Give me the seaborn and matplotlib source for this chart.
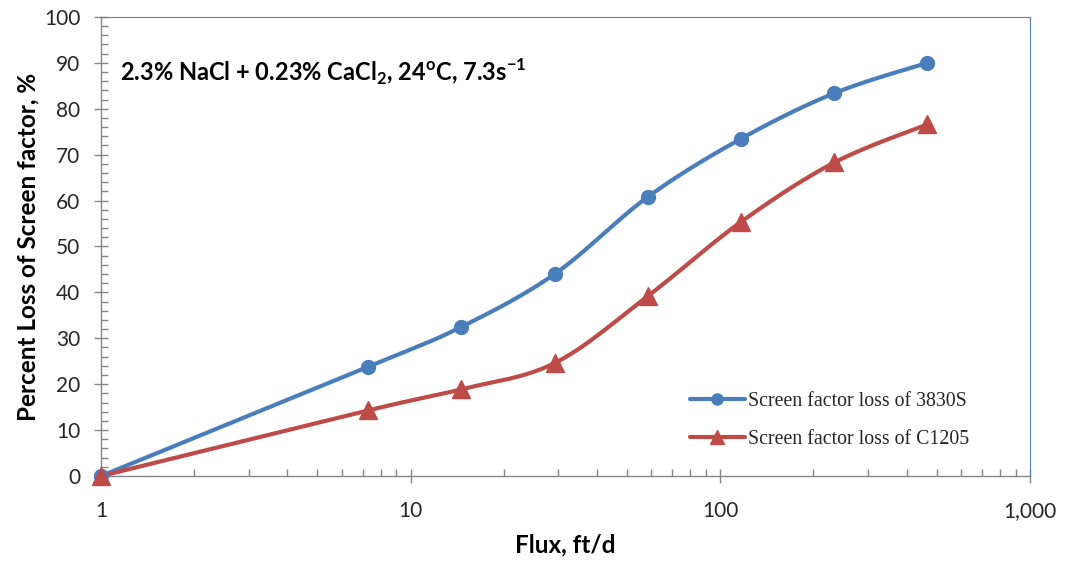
import numpy as np
import pandas as pd
import matplotlib
matplotlib.use("Agg")
import matplotlib.pyplot as plt
from matplotlib.ticker import FixedLocator, FuncFormatter, MultipleLocator, NullFormatter
import seaborn as sns

# Flux values (ft/d) and percent loss of screen factor
flux = [1, 7.3, 14.6, 29.2, 58.4, 117, 234, 467]
loss_3830s = [0, 23.8, 32.5, 44.0, 60.8, 73.5, 83.4, 90.0]
loss_c1205 = [0, 14.3, 18.9, 24.6, 39.2, 55.4, 68.3, 76.6]
series_names = ["Screen factor loss of 3830S", "Screen factor loss of C1205"]
x_ticks = [1, 10, 100, 1000]
x_tick_labels = ["1", "10", "100", "1,000"]

sns.set_theme(style="white")
plt.rcParams["font.family"] = ["Lato", "DejaVu Sans"]
plt.rcParams["mathtext.fontset"] = "custom"
plt.rcParams["mathtext.rm"] = "Lato"
plt.rcParams["mathtext.bf"] = "Lato:bold"

BLUE = "#4A7EBB"
RED = "#BE4B48"
GREY = "#868686"

fig = plt.figure(figsize=(10.7, 5.64), dpi=100)
ax = fig.add_axes([0.0944, 0.156, 0.868, 0.814])
ax.set_xscale("log")
ax.set_xlim(1, 1000)
ax.set_ylim(0, 100)


def smooth_curve(xs, ys, n=40):
    """Smoothed line: cubic Bezier segments with Catmull-Rom control points,
    built in screen-proportional space (log x)."""
    sx = 310.0
    sy = 4.59
    P = np.column_stack([np.log10(xs) * sx, np.asarray(ys) * sy])
    out = [P[0]]
    m = len(P)
    for i in range(m - 1):
        p0 = P[i - 1] if i > 0 else P[i]
        p1, p2 = P[i], P[i + 1]
        p3 = P[i + 2] if i + 2 < m else P[i + 1]
        c1 = p1 + (p2 - p0) / 6.0
        c2 = p2 - (p3 - p1) / 6.0
        t = np.linspace(0, 1, n)[1:, None]
        seg = ((1 - t) ** 3) * p1 + 3 * ((1 - t) ** 2) * t * c1 + 3 * (1 - t) * t ** 2 * c2 + t ** 3 * p2
        out.extend(seg)
    out = np.array(out)
    return 10 ** (out[:, 0] / sx), out[:, 1] / sy


for ys, color, marker, ms, name in [
    (loss_3830s, BLUE, "o", 10, series_names[0]),
    (loss_c1205, RED, "^", 13, series_names[1]),
]:
    cx, cy = smooth_curve(flux, ys)
    curve = pd.DataFrame({"flux": cx, "loss": cy})
    sns.lineplot(data=curve, x="flux", y="loss", sort=False, color=color, lw=3,
                 ax=ax, zorder=3, estimator=None)
    pts = pd.DataFrame({"flux": flux, "loss": ys})
    ax.plot(pts["flux"], pts["loss"], linestyle="none", marker=marker, ms=ms,
            color=color, zorder=4, clip_on=False)
    ax.plot([], [], color=color, lw=3, marker=marker, ms=ms * 0.8, label=name)

# axes styling
for side in ["left", "bottom"]:
    ax.spines[side].set_color(GREY)
    ax.spines[side].set_linewidth(1.0)
for side in ["top", "right"]:
    ax.spines[side].set_color("#4F81BD")
    ax.spines[side].set_linewidth(0.8)

ax.xaxis.set_major_locator(FixedLocator(x_ticks))
ax.xaxis.set_major_formatter(FuncFormatter(lambda v, p: x_tick_labels[x_ticks.index(int(round(v)))] if int(round(v)) in x_ticks else ""))
ax.xaxis.set_minor_locator(FixedLocator([m * 10 ** d for d in range(3) for m in range(2, 10)]))
ax.xaxis.set_minor_formatter(NullFormatter())
ax.yaxis.set_major_locator(MultipleLocator(10))
ax.yaxis.set_minor_locator(MultipleLocator(2))

ax.tick_params(axis="both", which="major", direction="inout", length=10, width=1,
               color=GREY, labelsize=15, labelcolor="#262626", bottom=True, left=True)
ax.tick_params(axis="both", which="minor", direction="in", length=5, width=1,
               color=GREY, bottom=True, left=True)
ax.tick_params(axis="x", which="major", pad=13)
ax.tick_params(axis="y", which="major", pad=10)

ax.set_xlabel("Flux, ft/d", fontsize=17.5, fontweight="bold", color="black", labelpad=9)
ax.set_ylabel("Percent Loss of Screen factor, %", fontsize=17.5, fontweight="bold",
              color="black", labelpad=3)

ax.text(0.02, 0.88, r"2.3% NaCl + 0.23% CaCl$_\mathbf{2}$, 24$^\mathbf{o}$C, 7.3s$^\mathbf{-1}$",
        transform=ax.transAxes, fontsize=17, fontweight="bold", color="black",
        ha="left", va="center")

leg = ax.legend(loc="upper left", bbox_to_anchor=(690 / 1070, 1 - 392 / 564),
                bbox_transform=fig.transFigure, frameon=False,
                prop={"family": "Liberation Serif", "size": 14.3}, handlelength=2.75,
                labelspacing=0.95, handletextpad=0.15, borderpad=0, borderaxespad=0)

fig.savefig("out.png", dpi=100, facecolor="white")
